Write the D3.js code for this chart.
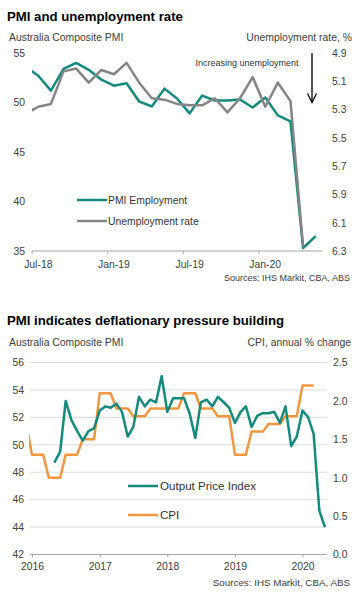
<!DOCTYPE html>
<html><head><meta charset="utf-8">
<script src="https://cdn.jsdelivr.net/npm/d3@7"></script>
<style>
body{margin:0;background:#fff}
svg{display:block;font-family:"Liberation Sans",Arial,sans-serif}
</style>
</head><body>
<svg id="c" width="359" height="594"></svg>
<script>
// ---------- Chart 1 data ----------
const topMonths = ["Jun-18","Jul-18","Aug-18","Sep-18","Oct-18","Nov-18","Dec-18",
  "Jan-19","Feb-19","Mar-19","Apr-19","May-19","Jun-19","Jul-19","Aug-19","Sep-19","Oct-19","Nov-19","Dec-19",
  "Jan-20","Feb-20","Mar-20","Apr-20","May-20"];
const pmiEmployment = [53.6,52.7,51.2,53.4,54.0,53.3,52.3,
  51.7,51.95,50.1,49.6,51.4,50.4,48.9,50.7,50.2,50.2,50.3,49.5,
  50.5,48.7,48.1,35.3,36.5];
const unemploymentRate = [5.33,5.28,5.26,5.03,5.01,5.11,5.02,
  5.05,4.97,5.11,5.22,5.23,5.26,5.27,5.27,5.22,5.32,5.22,5.07,
  5.28,5.11,5.24,6.27];
const topLeftTicks = [35,40,45,50,55];
const topRightTicks = [4.9,5.1,5.3,5.5,5.7,5.9,6.1,6.3];
const topXLabels = ["Jul-18","Jan-19","Jul-19","Jan-20"];

// ---------- Chart 2 data ----------
const bottomMonths = ["2016-05","2016-06","2016-07","2016-08","2016-09","2016-10","2016-11","2016-12",
  "2017-01","2017-02","2017-03","2017-04","2017-05","2017-06","2017-07","2017-08","2017-09","2017-10","2017-11","2017-12",
  "2018-01","2018-02","2018-03","2018-04","2018-05","2018-06","2018-07","2018-08","2018-09","2018-10","2018-11","2018-12",
  "2019-01","2019-02","2019-03","2019-04","2019-05","2019-06","2019-07","2019-08","2019-09","2019-10","2019-11","2019-12",
  "2020-01","2020-02","2020-03","2020-04","2020-05"];
const outputPriceIndex = [48.7,49.5,53.2,51.8,51.0,50.3,51.0,51.2,
  52.5,52.8,52.7,53.0,52.4,50.6,51.3,53.5,52.8,53.3,53.1,55.0,
  52.4,53.4,53.4,53.4,52.3,50.5,53.1,53.3,52.8,53.5,53.1,52.7,
  51.6,52.4,52.8,51.3,52.1,52.3,52.3,52.4,51.6,52.8,49.9,50.6,
  52.5,52.0,50.8,45.2,44.0];
const cpiQuarters = ["2015-10","2016-01","2016-04","2016-07","2016-10","2017-01","2017-04","2017-07","2017-10",
  "2018-01","2018-04","2018-07","2018-10","2019-01","2019-04","2019-07","2019-10","2020-01"];
const cpiValues = [1.7,1.3,1.0,1.3,1.5,2.1,1.9,1.8,1.9,1.9,2.1,1.9,1.8,1.3,1.6,1.7,1.8,2.2];
const bottomLeftTicks = [42,44,46,48,50,52,54,56];
const bottomRightTicks = [0.0,0.5,1.0,1.5,2.0,2.5];
const bottomYears = ["2016","2017","2018","2019","2020"];

// ---------- styles ----------
const TEAL = "#148a7e", GREY = "#858585", ORANGE = "#f39640";
const TXT = "#404040", AXIS = "#a6a6a6", GRID = "#dcdcdc";

const svg = d3.select("#c");
const defs = svg.append("defs");

function title(y, t){
  svg.append("text").attr("x",7).attr("y",y).attr("font-size",13.2).attr("font-weight","bold")
    .attr("fill","#000").text(t);
}
function small(x,y,t,anchor,size){
  svg.append("text").attr("x",x).attr("y",y).attr("font-size",size||10.4)
    .attr("text-anchor",anchor||"start").attr("fill",TXT).text(t);
}
function styleAxis(g,size){
  g.select(".domain").remove();
  g.selectAll("text").attr("font-size",size||10.4).attr("fill",TXT)
    .attr("font-family",'"Liberation Sans",Arial,sans-serif');
}

// ================= Chart 1 =================
title(21,"PMI and unemployment rate");
small(9,41,"Australia Composite PMI");
small(352,41,"Unemployment rate, %","end");

const x1L = 32, x1R = 322;
const bw1 = (x1R - x1L)/23;
const xTop = d3.scaleBand().domain(topMonths).range([x1L - bw1, x1R]).padding(0);
const cx = m => xTop(m) + xTop.bandwidth()/2;
const yTL = d3.scaleLinear().domain([35,55]).range([251,53]);
const yTR = d3.scaleLinear().domain([4.9,6.3]).range([53,251]);

defs.append("clipPath").attr("id","clip1").append("rect")
  .attr("x",x1L).attr("y",0).attr("width",x1R - x1L + 10).attr("height",300);

// left y axis labels
const gTL = svg.append("g").attr("transform","translate(25,0)")
  .call(d3.axisLeft(yTL).tickValues(topLeftTicks).tickSize(0).tickPadding(0).tickFormat(d3.format("d")));
styleAxis(gTL);
// right y axis labels
const gTR = svg.append("g").attr("transform","translate(332,0)")
  .call(d3.axisRight(yTR).tickValues(topRightTicks).tickSize(0).tickPadding(0).tickFormat(d3.format(".1f")));
styleAxis(gTR);

// x axis
svg.append("line").attr("x1",x1L).attr("x2",x1R).attr("y1",yTL(35)).attr("y2",yTL(35))
  .attr("stroke",AXIS).attr("stroke-width",1);
svg.append("g").selectAll("line").data(topXLabels).join("line")
  .attr("x1",d=>xTop(d)).attr("x2",d=>xTop(d)).attr("y1",yTL(35)).attr("y2",yTL(35)+3)
  .attr("stroke",AXIS);
const gTX = svg.append("g").attr("transform",`translate(0,${yTL(35)})`)
  .call(d3.axisBottom(xTop).tickValues(topXLabels).tickSize(0).tickPadding(10));
styleAxis(gTX);
gTX.selectAll(".tick line").remove();

small(350,281,"Sources: IHS Markit, CBA, ABS","end",9);

// lines
const plot1 = svg.append("g").attr("clip-path","url(#clip1)");
const pmiLine = d3.line().x((d,i)=>cx(topMonths[i])).y(d=>yTL(d));
const unLine = d3.line().x((d,i)=>cx(topMonths[i])).y(d=>yTR(d));
plot1.append("path").attr("d",pmiLine(pmiEmployment)).attr("fill","none")
  .attr("stroke",TEAL).attr("stroke-width",2.5).attr("stroke-linejoin","round");
plot1.append("path").attr("d",unLine(unemploymentRate)).attr("fill","none")
  .attr("stroke",GREY).attr("stroke-width",2.5).attr("stroke-linejoin","round");

// annotation
svg.append("text").attr("x",247).attr("y",66).attr("text-anchor","middle")
  .attr("font-size",9).attr("fill","#333").text("Increasing unemployment");
const ax = 312, ay0 = yTR(4.9), ay1 = yTR(5.25);
svg.append("line").attr("x1",ax).attr("x2",ax).attr("y1",ay0).attr("y2",ay1)
  .attr("stroke","#000").attr("stroke-width",1.3);
svg.append("path").attr("d",`M${ax-4.5},${ay1-9}L${ax},${ay1}L${ax+4.5},${ay1-9}`)
  .attr("fill","none").attr("stroke","#000").attr("stroke-width",1.3);

// legend
[["PMI Employment",TEAL,200],["Unemployment rate",GREY,221]].forEach(([t,c,y])=>{
  svg.append("line").attr("x1",77).attr("x2",107).attr("y1",y).attr("y2",y)
    .attr("stroke",c).attr("stroke-width",2.5);
  svg.append("text").attr("x",108).attr("y",y+3.7).attr("font-size",10.4).attr("fill","#333").text(t);
});

// ================= Chart 2 =================
title(325,"PMI indicates deflationary pressure building");
small(9,346,"Australia Composite PMI");
small(351,346,"CPI, annual % change","end");

const parseM = d3.timeParse("%Y-%m");
const xB = d3.scaleTime().domain([new Date(2016,0,1), new Date(2020,0,1)]).range([32,302.5]);
const yBL = d3.scaleLinear().domain([42,56]).range([554.5,362.5]);
const yBR = d3.scaleLinear().domain([0,2.5]).range([554.5,362.5]);
const x2L = 30, x2R = 327;

// gridlines
svg.append("g").selectAll("line").data(bottomLeftTicks.filter(d=>d!==42)).join("line")
  .attr("x1",x2L).attr("x2",x2R).attr("y1",d=>yBL(d)).attr("y2",d=>yBL(d))
  .attr("stroke",GRID).attr("stroke-width",1);

const gBL = svg.append("g").attr("transform","translate(24,0)")
  .call(d3.axisLeft(yBL).tickValues(bottomLeftTicks).tickSize(0).tickPadding(0).tickFormat(d3.format("d")));
styleAxis(gBL);
const gBR = svg.append("g").attr("transform","translate(333,0)")
  .call(d3.axisRight(yBR).tickValues(bottomRightTicks).tickSize(0).tickPadding(0).tickFormat(d3.format(".1f")));
styleAxis(gBR);

// x axis
svg.append("line").attr("x1",x2L).attr("x2",x2R).attr("y1",yBL(42)).attr("y2",yBL(42))
  .attr("stroke",AXIS).attr("stroke-width",1);
const yearDates = bottomYears.map(y=>new Date(+y,0,1));
const gBX = svg.append("g").attr("transform",`translate(0,${yBL(42)})`)
  .call(d3.axisBottom(xB).tickValues(yearDates).tickSize(3).tickPadding(5).tickFormat(d3.timeFormat("%Y")));
styleAxis(gBX);
gBX.selectAll(".tick line").attr("stroke",AXIS);

small(350,586,"Sources: IHS Markit, CBA, ABS","end",9.8);

defs.append("clipPath").attr("id","clip2").append("rect")
  .attr("x",29).attr("y",300).attr("width",310).attr("height",294);
const plot2 = svg.append("g").attr("clip-path","url(#clip2)");

// CPI: each quarterly value held across the quarter's three months
const cpiPts = [];
cpiQuarters.forEach((q,i)=>{
  const s = parseM(q);
  cpiPts.push([s, cpiValues[i]]);
  cpiPts.push([d3.timeMonth.offset(s,2), cpiValues[i]]);
});
plot2.append("path").attr("d",d3.line().x(d=>xB(d[0])).y(d=>yBR(d[1]))(cpiPts))
  .attr("fill","none").attr("stroke",ORANGE).attr("stroke-width",2.5).attr("stroke-linejoin","round");
plot2.append("path").attr("d",d3.line().x((d,i)=>xB(parseM(bottomMonths[i]))).y(d=>yBL(d))(outputPriceIndex))
  .attr("fill","none").attr("stroke",TEAL).attr("stroke-width",2.5).attr("stroke-linejoin","round");

// legend
[["Output Price Index",TEAL,486],["CPI",ORANGE,515]].forEach(([t,c,y])=>{
  svg.append("line").attr("x1",128).attr("x2",158).attr("y1",y).attr("y2",y)
    .attr("stroke",c).attr("stroke-width",2.5);
  svg.append("text").attr("x",160).attr("y",y+4.2).attr("font-size",11.6).attr("fill","#333").text(t);
});
</script>
</body></html>
